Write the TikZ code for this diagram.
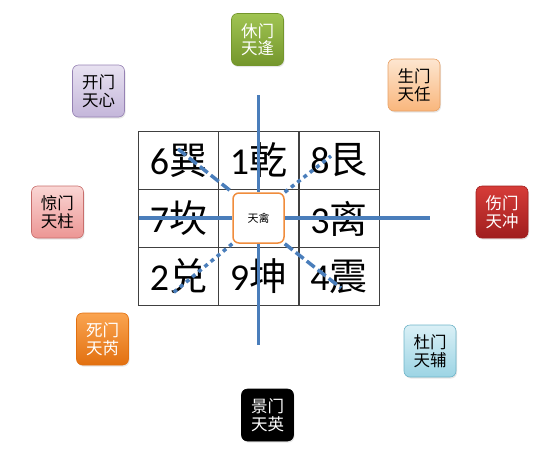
\documentclass[tikz,border=0pt]{standalone}
\usepackage{fontspec}
\setmainfont{Carlito}
\newfontfamily\cjk{Noto Sans CJK SC}
\usetikzlibrary{shadows}
\definecolor{lineblue}{RGB}{74,126,187}
\definecolor{xiuTop}{RGB}{160,196,82}
\definecolor{xiuBot}{RGB}{116,150,44}
\definecolor{kaiTop}{RGB}{232,226,241}
\definecolor{kaiBot}{RGB}{196,182,218}
\definecolor{kaiLine}{RGB}{150,130,180}
\definecolor{jingTop}{RGB}{250,214,212}
\definecolor{jingBot}{RGB}{236,150,148}
\definecolor{jingLine}{RGB}{200,110,108}
\definecolor{shengTop}{RGB}{253,230,208}
\definecolor{shengBot}{RGB}{249,182,124}
\definecolor{shengLine}{RGB}{232,160,100}
\definecolor{shangTop}{RGB}{214,60,56}
\definecolor{shangBot}{RGB}{160,30,30}
\definecolor{siTop}{RGB}{250,164,80}
\definecolor{siBot}{RGB}{226,112,16}
\definecolor{duTop}{RGB}{218,240,246}
\definecolor{duBot}{RGB}{156,212,228}
\definecolor{duLine}{RGB}{110,180,200}
\definecolor{qinLine}{RGB}{240,140,60}
\tikzstyle{cell}=[draw=black!75, line width=0.8pt, minimum width=80pt, minimum height=57.7pt, inner sep=0pt, font=\fontsize{38}{40}\selectfont]
\tikzstyle{gate}=[rounded corners=6pt, minimum size=52pt, inner sep=0pt, align=center, line width=0.6pt, font=\cjk\fontsize{16.5}{17.5}\selectfont, drop shadow={opacity=0.2, shadow xshift=1pt, shadow yshift=-1.5pt}]
\tikzstyle{xiugate}=[top color=xiuTop, bottom color=xiuBot, draw=xiuBot, text=white]
\tikzstyle{kaigate}=[top color=kaiTop, bottom color=kaiBot, draw=kaiLine]
\tikzstyle{jinggate}=[top color=jingTop, bottom color=jingBot, draw=jingLine]
\tikzstyle{shenggate}=[top color=shengTop, bottom color=shengBot, draw=shengLine]
\tikzstyle{shanggate}=[top color=shangTop, bottom color=shangBot, draw=shangBot, text=white]
\tikzstyle{sigate}=[top color=siTop, bottom color=siBot, draw=siBot, text=white]
\tikzstyle{yinggate}=[fill=black, draw=black, text=white]
\tikzstyle{dugate}=[top color=duTop, bottom color=duBot, draw=duLine]
\tikzstyle{qinbox}=[draw=qinLine, fill=white, line width=1.5pt, rounded corners=6pt, minimum width=51pt, minimum height=50pt, inner sep=0pt, font=\cjk\fontsize{11}{12}\selectfont]
\tikzstyle{axis} = [draw=lineblue, line width=3.5pt]
\tikzstyle{dashlink} = [draw=lineblue, line width=3.5pt, dash pattern=on 10pt off 4pt]
\tikzstyle{dotlink} = [draw=lineblue, line width=3.5pt, dash pattern=on 4pt off 4pt]

\begin{document}
\begin{tikzpicture}[x=1pt, y=-1pt]
    \useasboundingbox (0,0) rectangle (539,456);

    % nine palaces
    \foreach \x/\y/\name/\num/\gua in {178.5/160.5/xun/6/巽, 258.5/160.5/qian/1/乾, 339/160.5/gen/8/艮,
        178.5/218.5/kan/7/坎, 258.5/218.5/gong//, 339/218.5/li/3/离,
        178.5/276.5/dui/2/兑, 258.5/276.5/kun/9/坤, 339/276.5/zhen/4/震}
        \node[cell] (\name) at (\x, \y) {\num{\cjk\gua}};

    \node[qinbox] (qin) at (258.5, 218) {天禽};

    % free ends of the blue lines
    \coordinate (up) at (258.5, 95);
    \coordinate (down) at (258.5, 345);
    \coordinate (west) at (139, 218);
    \coordinate (east) at (430, 218);
    \coordinate (nw) at (178, 149);
    \coordinate (ne) at (331, 156);
    \coordinate (sw) at (173, 293);
    \coordinate (se) at (341, 288);

    \draw[axis] (up) -- (qin.north);
    \draw[axis] (qin.south) -- (down);
    \draw[axis] (west) -- (qin.west);
    \draw[axis] (qin.east) -- (east);
    \draw[dashlink] (nw) -- (qin.north west);
    \draw[dashlink] (qin.south east) -- (se);
    \draw[dotlink] (qin.north east) -- (ne);
    \draw[dotlink] (qin.south west) -- (sw);

    % eight gates
    \foreach \x/\y/\name/\sty/\men/\xing in {257.5/39.5/xiu/xiugate/休门/天逢, 98.5/91/kai/kaigate/开门/天心,
        57.5/212/jing/jinggate/惊门/天柱, 414/85/sheng/shenggate/生门/天任,
        502/212/shang/shanggate/伤门/天冲, 102.5/339/si/sigate/死门/天芮,
        267.5/415/ying/yinggate/景门/天英, 430/351/du/dugate/杜门/天辅}
        \node[gate, \sty] (\name) at (\x, \y) {\men\\\xing};

\end{tikzpicture}
\end{document}
